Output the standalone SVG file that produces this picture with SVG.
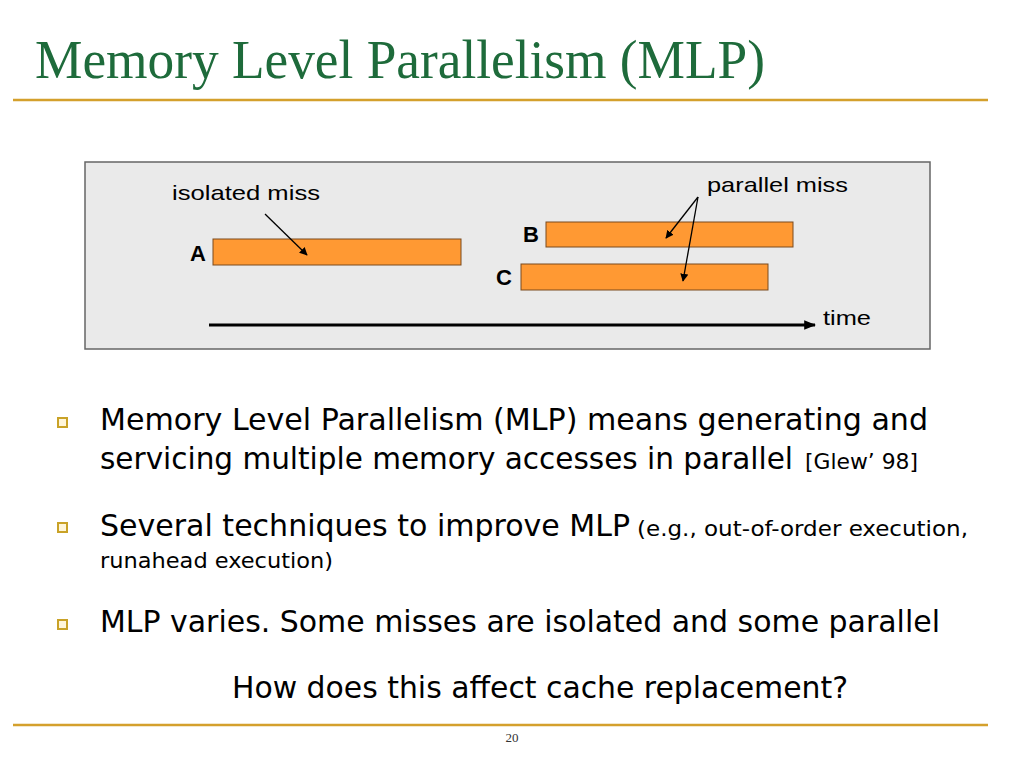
<svg xmlns="http://www.w3.org/2000/svg" width="1024" height="768" viewBox="0 0 1024 768">
<style>
.title{font-family:"Liberation Serif","Times New Roman",serif;font-size:55px;fill:#1E6B3B}
.lbl{font-family:"Liberation Sans",Arial,sans-serif;font-size:21px;fill:#000}
.bold{font-family:"Liberation Sans",Arial,sans-serif;font-size:22px;font-weight:bold;fill:#000}
.bar{fill:#FF9933;stroke:#7A4A1E;stroke-width:1}
.big{font-family:"DejaVu Sans Condensed","DejaVu Sans",Verdana,sans-serif;font-size:31px;fill:#000}
.small{font-family:"DejaVu Sans Condensed","DejaVu Sans",Verdana,sans-serif;font-size:21px;fill:#000}
.rule{stroke:#D4A02C;stroke-width:2.5}
.bul{fill:#FFF6DA;stroke:#C9A227;stroke-width:2}
.conn{stroke:#000;stroke-width:1.3;fill:none}
</style>
<defs>
<marker id="ah" viewBox="0 0 10 10" refX="9" refY="5" markerWidth="8" markerHeight="8" orient="auto" markerUnits="userSpaceOnUse">
<path d="M0,0 L10,5 L0,10 z" fill="#000"/>
</marker>
<marker id="ahb" viewBox="0 0 10 10" refX="9" refY="5" markerWidth="4" markerHeight="4" orient="auto">
<path d="M0,1 L10,5 L0,9 z" fill="#000"/>
</marker>
</defs>
<rect width="1024" height="768" fill="#fff"/>
<g id="title">
<text class="title" x="35" y="78" textLength="730" lengthAdjust="spacingAndGlyphs">Memory Level Parallelism (MLP)</text>
<line class="rule" x1="13" y1="100" x2="988" y2="100"/>
</g>
<g id="diagram-box">
<rect x="85" y="162" width="845" height="187" fill="#EAEAEA" stroke="#666" stroke-width="1.5"/>
</g>
<g id="node-A">
<rect class="bar" x="213" y="239" width="248" height="26"/>
<text class="bold" x="190" y="261">A</text>
</g>
<g id="node-B">
<rect class="bar" x="546" y="222" width="247" height="25"/>
<text class="bold" x="523" y="242">B</text>
</g>
<g id="node-C">
<rect class="bar" x="521" y="264" width="247" height="26"/>
<text class="bold" x="496" y="285">C</text>
</g>
<g id="labels">
<text class="lbl" x="172" y="200" textLength="148" lengthAdjust="spacingAndGlyphs">isolated miss</text>
<text class="lbl" x="707" y="192" textLength="141" lengthAdjust="spacingAndGlyphs">parallel miss</text>
<text class="lbl" x="823" y="325" textLength="48" lengthAdjust="spacingAndGlyphs">time</text>
</g>
<g id="connectors">
<line class="conn" x1="265" y1="214" x2="307" y2="255" marker-end="url(#ah)"/>
<line class="conn" x1="698" y1="197" x2="666" y2="238" marker-end="url(#ah)"/>
<line class="conn" x1="698" y1="197" x2="683" y2="281" marker-end="url(#ah)"/>
<line x1="209" y1="325" x2="815" y2="325" stroke="#000" stroke-width="3" marker-end="url(#ahb)"/>
</g>
<g id="bullets">
<rect class="bul" x="58" y="418" width="9" height="9"/>
<rect class="bul" x="58" y="523" width="9" height="9"/>
<rect class="bul" x="58" y="620" width="9" height="9"/>
<text class="big" x="100" y="430" textLength="828" lengthAdjust="spacingAndGlyphs">Memory Level Parallelism (MLP) means generating and</text>
<text class="big" x="100" y="469" textLength="693" lengthAdjust="spacingAndGlyphs">servicing multiple memory accesses in parallel</text>
<text class="small" x="805" y="469" textLength="113" lengthAdjust="spacingAndGlyphs">[Glew’ 98]</text>
<text class="big" x="100" y="536" textLength="530" lengthAdjust="spacingAndGlyphs">Several techniques to improve MLP</text>
<text class="small" x="637" y="536" textLength="331" lengthAdjust="spacingAndGlyphs">(e.g., out-of-order execution,</text>
<text class="small" x="100" y="568" textLength="233" lengthAdjust="spacingAndGlyphs">runahead execution)</text>
<text class="big" x="100" y="632" textLength="840" lengthAdjust="spacingAndGlyphs">MLP varies. Some misses are isolated and some parallel</text>
<text class="big" x="232" y="698" textLength="616" lengthAdjust="spacingAndGlyphs">How does this affect cache replacement?</text>
</g>
<g id="footer">
<line class="rule" x1="13" y1="725" x2="988" y2="725"/>
<text x="512" y="742" text-anchor="middle" font-family="'Liberation Serif','Times New Roman',serif" font-size="13" fill="#333">20</text>
</g>
</svg>
